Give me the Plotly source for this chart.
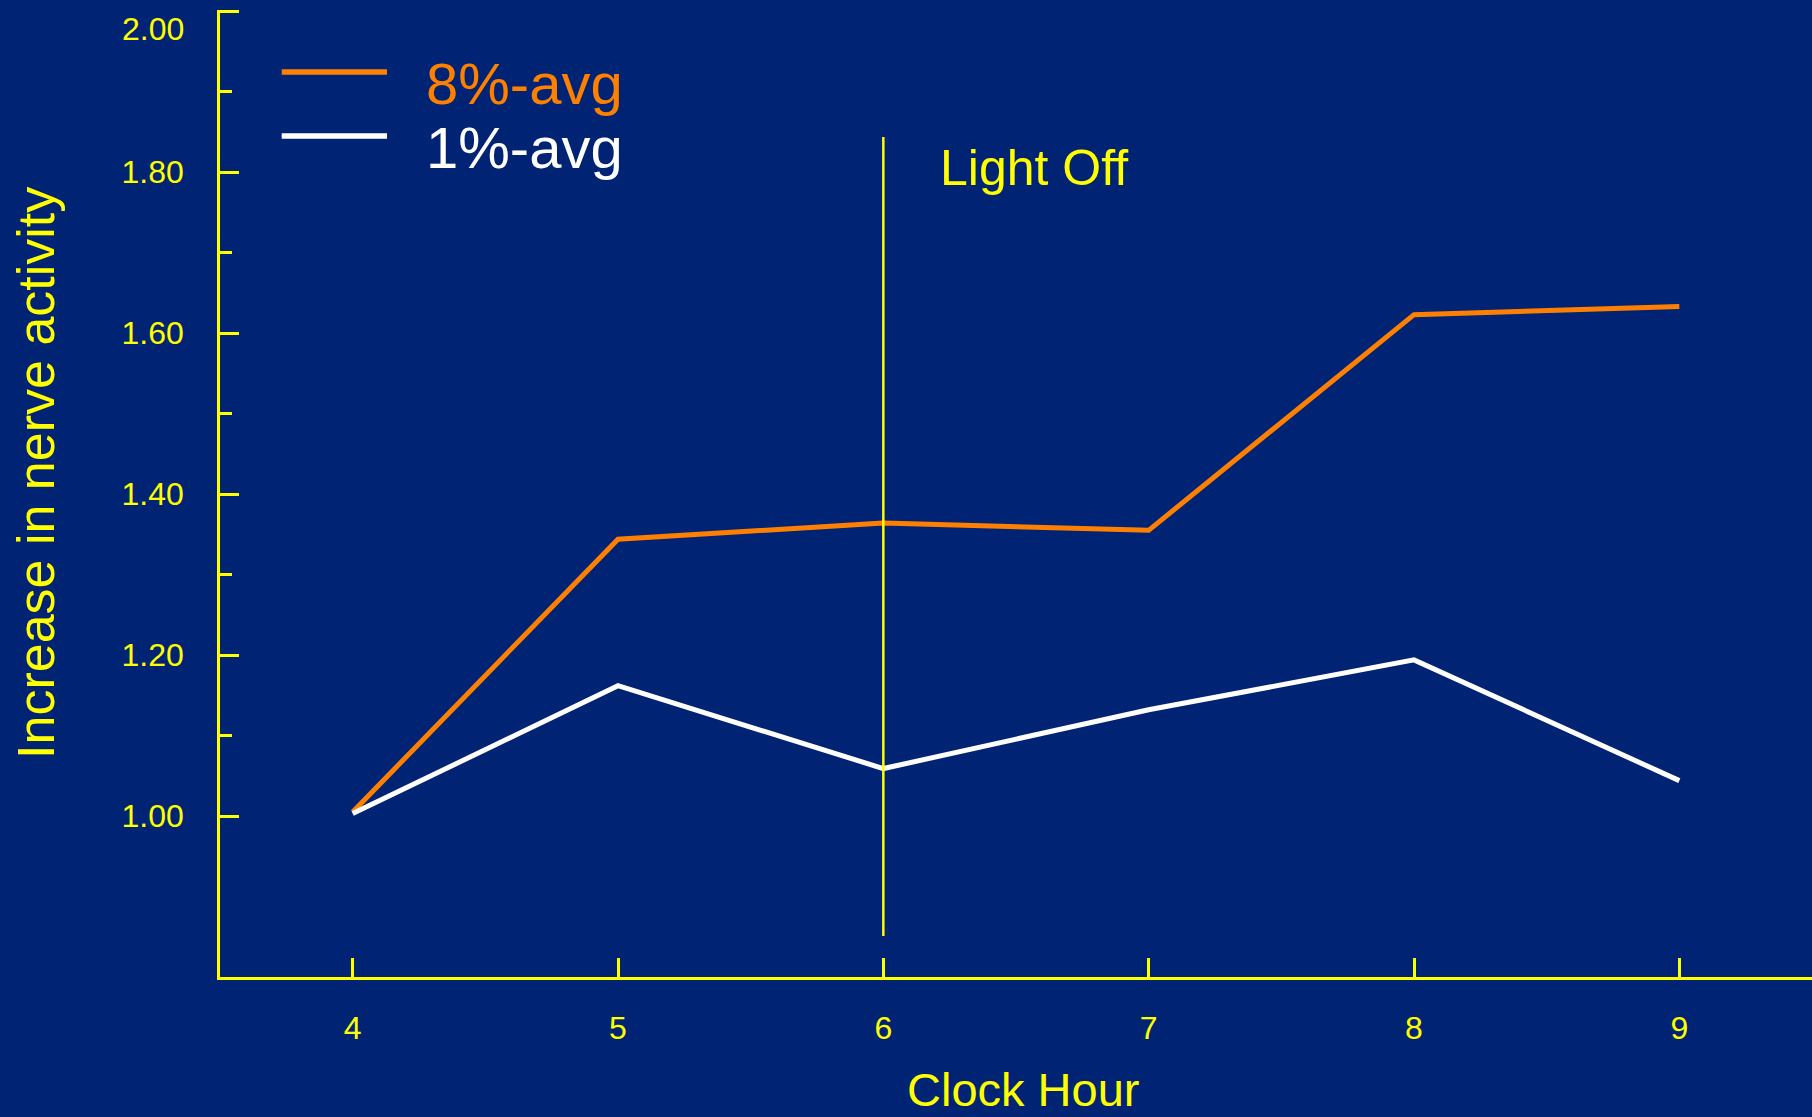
import plotly.graph_objects as go

# ---- data ----
hours = [4, 5, 6, 7, 8, 9]
avg_8 = [1.005, 1.344, 1.364, 1.355, 1.623, 1.633]
avg_1 = [1.003, 1.162, 1.059, 1.132, 1.194, 1.044]

series_names = ["8%-avg", "1%-avg"]
y_major_vals = [1.0, 1.2, 1.4, 1.6, 1.8, 2.0]
y_major_text = ["1.00", "1.20", "1.40", "1.60", "1.80", ""]
y_top_label = "2.00"
y_minor_vals = [1.1, 1.3, 1.5, 1.7, 1.9]
x_tick_vals = [4, 5, 6, 7, 8, 9]
x_tick_text = ["4", "5", "6", "7", "8", "9"]

light_off_hour = 6
light_off_span = [0.851, 1.8436]

# ---- style ----
BG = "#002473"
YEL = "#FFFF00"
ORANGE = "#FF8000"
WHITE = "#FFFFFF"
FONT = "Liberation Sans, Arial, sans-serif"

fig = go.Figure()
fig.add_trace(go.Scatter(x=hours, y=avg_8, mode="lines", name=series_names[0],
                         line=dict(color=ORANGE, width=5), showlegend=False))
fig.add_trace(go.Scatter(x=hours, y=avg_1, mode="lines", name=series_names[1],
                         line=dict(color=WHITE, width=5), showlegend=False))

# vertical "Light Off" marker
fig.add_shape(type="line", xref="x", yref="y",
              x0=light_off_hour, x1=light_off_hour,
              y0=light_off_span[0], y1=light_off_span[1],
              line=dict(color=YEL, width=2.5))
fig.add_annotation(x=6.207, y=1.805, xref="x", yref="y", text="Light Off",
                   showarrow=False, xanchor="left", yanchor="middle",
                   font=dict(family=FONT, size=50, color=YEL))

# top tick label (sits just below the top of the axis)
fig.add_annotation(x=-0.0215, y=0.9804, xref="paper", yref="paper",
                   text=y_top_label, showarrow=False,
                   xanchor="right", yanchor="middle",
                   font=dict(family=FONT, size=32, color=YEL))

# manual legend
legend_items = [(series_names[0], ORANGE, 0.9359, 0.9245),
                (series_names[1], WHITE, 0.8697, 0.858)]
for name, col, ly, ty in legend_items:
    fig.add_shape(type="line", xref="paper", yref="paper",
                  x0=0.03876, x1=0.1049, y0=ly, y1=ly,
                  line=dict(color=col, width=5.5))
    fig.add_annotation(x=0.1283, y=ty, xref="paper", yref="paper", text=name,
                       showarrow=False, xanchor="left", yanchor="middle",
                       font=dict(family=FONT, size=58, color=col))

# axis titles
fig.add_annotation(x=-0.116, y=0.5216, xref="paper", yref="paper",
                   text="Increase in nerve activity", textangle=-90,
                   showarrow=False, xanchor="center", yanchor="middle",
                   font=dict(family=FONT, size=52, color=YEL))
fig.add_annotation(x=0.5042, y=-0.1165, xref="paper", yref="paper",
                   text="Clock Hour", showarrow=False,
                   xanchor="center", yanchor="middle",
                   font=dict(family=FONT, size=47, color=YEL))

fig.update_layout(
    width=1812, height=1117,
    margin=dict(l=220, r=0, t=10, b=140, pad=0),
    paper_bgcolor=BG, plot_bgcolor=BG,
    font=dict(family=FONT, color=YEL),
    xaxis=dict(range=[3.5, 9.5], showgrid=False, zeroline=False,
               showline=True, linecolor=YEL, linewidth=2.5,
               ticks="inside", ticklen=19, tickwidth=2.5, tickcolor=YEL,
               tickmode="array", tickvals=x_tick_vals, ticktext=x_tick_text,
               tickfont=dict(family=FONT, size=32, color=YEL),
               ticklabelstandoff=21),
    yaxis=dict(range=[0.8, 2.0015], showgrid=False, zeroline=False,
               showline=True, linecolor=YEL, linewidth=2.5,
               ticks="inside", ticklen=19, tickwidth=2.5, tickcolor=YEL,
               tickmode="array", tickvals=y_major_vals, ticktext=y_major_text,
               tickfont=dict(family=FONT, size=32, color=YEL),
               ticklabelstandoff=27,
               minor=dict(tickmode="array", tickvals=y_minor_vals,
                          ticks="inside", ticklen=12, tickwidth=2.5,
                          tickcolor=YEL, showgrid=False)),
)

fig.write_html("out.html", config={"displayModeBar": False},
               post_script="document.body.style.margin='0';document.body.style.overflow='hidden';")
